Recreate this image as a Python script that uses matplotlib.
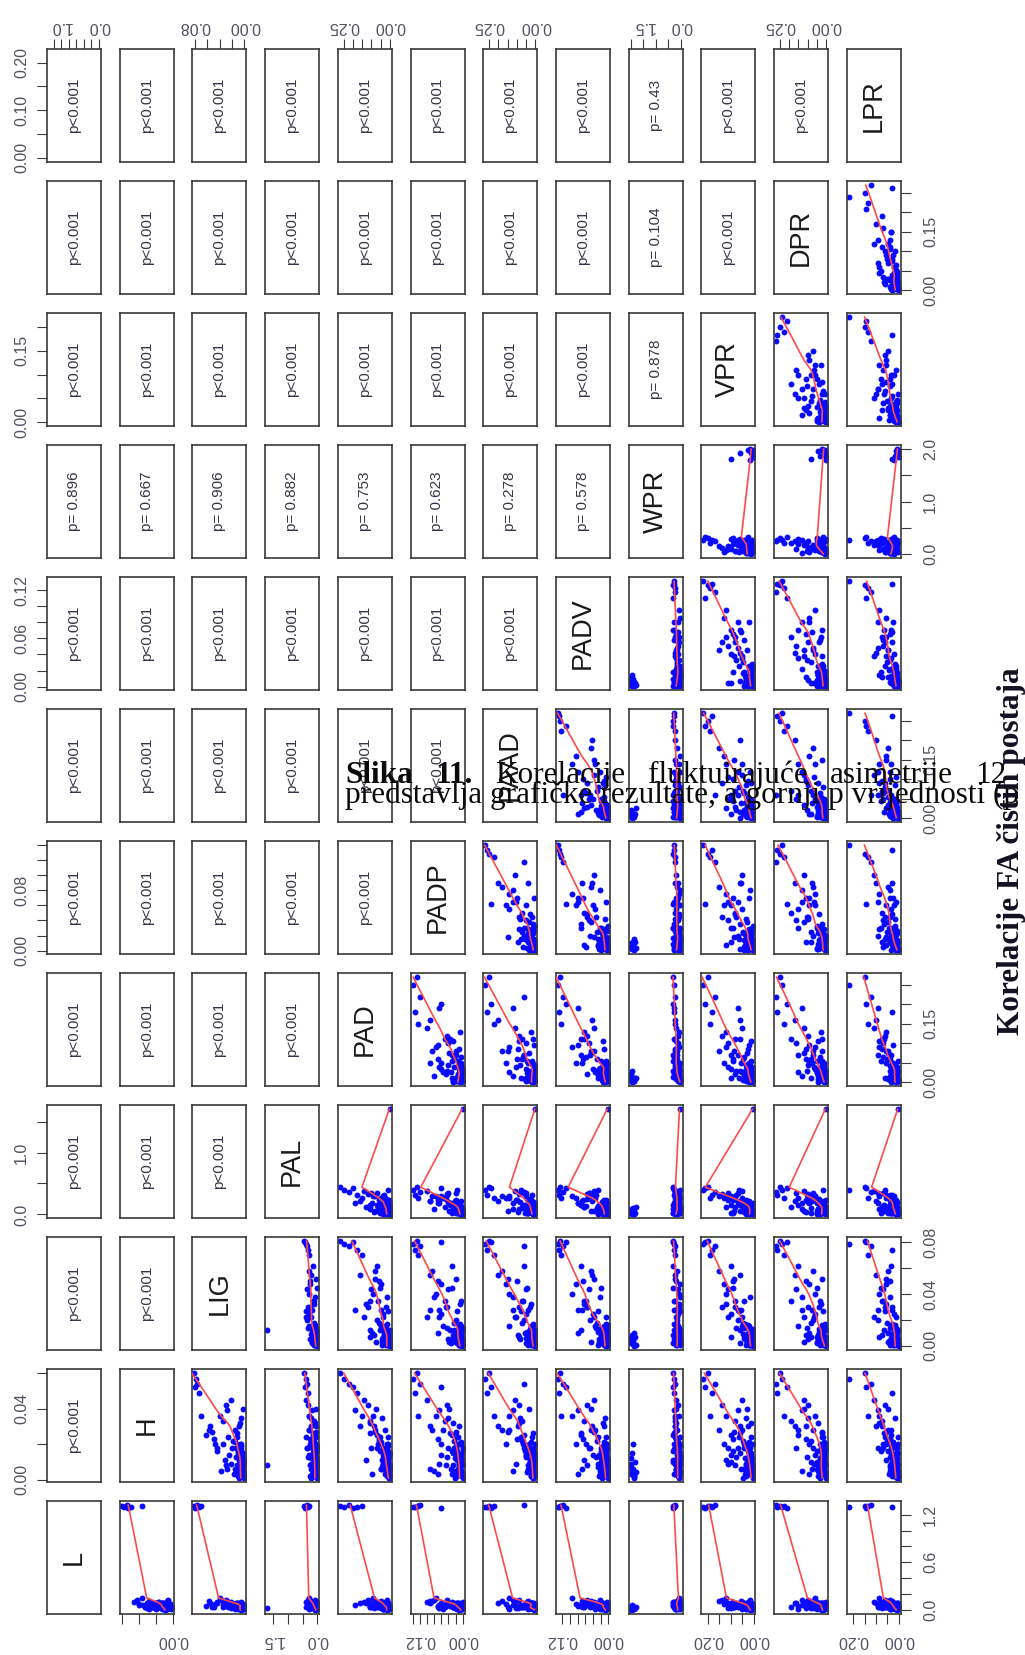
import numpy as np
import matplotlib
matplotlib.use("Agg")
import matplotlib.pyplot as plt

# ---------------- data, one list per variable (observations in the same order in every list)
L = [1.31, 1.30, 1.32, 1.29, 1.30, 1.31,
     0.12, 0.08, 0.15, 0.05, 0.10, 0.07, 0.03, 0.11, 0.06, 0.09, 0.04,
     0.02, 0.05, 0.01, 0.08, 0.03, 0.06, 0.04, 0.09, 0.02, 0.07, 0.01, 0.05, 0.03, 0.10, 0.04, 0.06, 0.02, 0.08, 0.05, 0.03, 0.07,
     0.01, 0.04, 0.06, 0.02, 0.09, 0.03, 0.05, 0.07, 0.04, 0.02, 0.06, 0.08, 0.03, 0.05, 0.01, 0.04, 0.07, 0.02, 0.06, 0.03, 0.05,
     0.04, 0.07, 0.02, 0.09, 0.05, 0.12, 0.03, 0.06, 0.08, 0.01, 0.10, 0.05, 0.03, 0.07, 0.02, 0.06, 0.09, 0.04, 0.11, 0.03,
     0.02, 0.01, 0.03, 0.00, 0.02, 0.04, 0.01, 0.03, 0.02, 0.05, 0.03, 0.01, 0.06, 0.02, 0.04, 0.01,
     0.02]
H = [0.060, 0.057, 0.054, 0.052, 0.049, 0.036,
     0.042, 0.030, 0.036, 0.025, 0.045, 0.020, 0.033, 0.028, 0.039, 0.018, 0.023,
     0.004, 0.012, 0.008, 0.018, 0.002, 0.010, 0.015, 0.006, 0.021, 0.003, 0.009, 0.013, 0.007, 0.017, 0.001, 0.011, 0.005, 0.019, 0.014, 0.008, 0.003,
     0.012, 0.016, 0.006, 0.010, 0.024, 0.002, 0.009, 0.013, 0.005, 0.018, 0.007, 0.011, 0.004, 0.015, 0.008, 0.020, 0.003, 0.012, 0.006, 0.010, 0.014,
     0.022, 0.008, 0.030, 0.014, 0.026, 0.005, 0.018, 0.035, 0.011, 0.028, 0.016, 0.003, 0.024, 0.040, 0.009, 0.020, 0.013, 0.032, 0.006, 0.027,
     0.003, 0.006, 0.001, 0.009, 0.004, 0.002, 0.007, 0.005, 0.010, 0.003, 0.012, 0.002, 0.015, 0.006, 0.004, 0.020,
     0.008]
LIG = [0.081, 0.079, 0.077, 0.080, 0.074, 0.070,
       0.030, 0.055, 0.040, 0.062, 0.022, 0.048, 0.035, 0.058, 0.028, 0.044, 0.050,
       0.003, 0.008, 0.001, 0.012, 0.005, 0.002, 0.010, 0.006, 0.015, 0.004, 0.007, 0.002, 0.011, 0.005, 0.009, 0.001, 0.013, 0.006, 0.003, 0.008, 0.017,
       0.004, 0.010, 0.002, 0.007, 0.012, 0.005, 0.001, 0.009, 0.006, 0.014, 0.003, 0.008, 0.011, 0.004, 0.002, 0.007, 0.010, 0.005, 0.016, 0.003, 0.006,
       0.018, 0.030, 0.008, 0.025, 0.012, 0.038, 0.020, 0.005, 0.032, 0.015, 0.045, 0.010, 0.027, 0.003, 0.022, 0.035, 0.014, 0.007, 0.028, 0.052,
       0.002, 0.004, 0.001, 0.006, 0.003, 0.000, 0.005, 0.002, 0.007, 0.003, 0.004, 0.010, 0.002, 0.008, 0.001, 0.005,
       0.012]
PAL = [0.44, 0.40, 0.36, 0.42, 0.31, 0.27,
       0.33, 0.22, 0.30, 0.15, 0.38, 0.26, 0.12, 0.29, 0.19, 0.35, 0.24,
       0.05, 0.12, 0.02, 0.18, 0.08, 0.03, 0.15, 0.10, 0.22, 0.06, 0.01, 0.09, 0.14, 0.04, 0.20, 0.07, 0.11, 0.02, 0.16, 0.05, 0.13,
       0.08, 0.03, 0.19, 0.10, 0.06, 0.24, 0.01, 0.12, 0.07, 0.04, 0.17, 0.09, 0.02, 0.14, 0.06, 0.11, 0.03, 0.21, 0.08, 0.05, 0.13,
       0.10, 0.25, 0.04, 0.30, 0.16, 0.08, 0.34, 0.20, 0.12, 0.27, 0.02, 0.18, 0.39, 0.06, 0.23, 0.14, 0.31, 0.09, 0.21, 0.05,
       0.03, 0.06, 0.01, 0.08, 0.04, 0.02, 0.05, 0.10, 0.03, 0.07, 0.02, 0.09, 0.05, 0.01, 0.12, 0.04,
       1.70]
PAD = [0.27, 0.25, 0.22, 0.20, 0.18, 0.15,
       0.12, 0.16, 0.09, 0.07, 0.14, 0.05, 0.11, 0.08, 0.19, 0.10, 0.06,
       0.010, 0.025, 0.005, 0.040, 0.015, 0.030, 0.008, 0.020, 0.050, 0.012, 0.035, 0.003, 0.018, 0.028, 0.006, 0.045, 0.022, 0.011, 0.033, 0.002, 0.016,
       0.038, 0.009, 0.026, 0.014, 0.055, 0.004, 0.021, 0.031, 0.007, 0.019, 0.042, 0.013, 0.024, 0.001, 0.036, 0.017, 0.029, 0.008, 0.048, 0.023, 0.012,
       0.060, 0.020, 0.085, 0.035, 0.110, 0.015, 0.070, 0.045, 0.130, 0.025, 0.055, 0.095, 0.010, 0.075, 0.040, 0.065, 0.030, 0.105, 0.050, 0.080,
       0.006, 0.012, 0.003, 0.018, 0.008, 0.002, 0.014, 0.005, 0.010, 0.004, 0.020, 0.007, 0.030, 0.001, 0.012, 0.009,
       0.002]
PADP = [0.128, 0.140, 0.118, 0.062, 0.134, 0.124,
        0.045, 0.090, 0.075, 0.030, 0.100, 0.060, 0.050, 0.085, 0.065, 0.040, 0.070,
        0.018, 0.004, 0.011, 0.026, 0.002, 0.009, 0.021, 0.014, 0.006, 0.030, 0.003, 0.016, 0.008, 0.001, 0.023, 0.012, 0.005, 0.019, 0.010, 0.027, 0.007,
        0.002, 0.015, 0.033, 0.004, 0.013, 0.020, 0.006, 0.009, 0.024, 0.001, 0.011, 0.017, 0.003, 0.028, 0.008, 0.014, 0.005, 0.022, 0.010, 0.002, 0.016,
        0.025, 0.048, 0.012, 0.060, 0.035, 0.080, 0.020, 0.042, 0.008, 0.055, 0.030, 0.070, 0.015, 0.038, 0.065, 0.005, 0.045, 0.028, 0.090, 0.018,
        0.003, 0.007, 0.001, 0.010, 0.004, 0.002, 0.008, 0.005, 0.012, 0.003, 0.006, 0.015, 0.002, 0.009, 0.004, 0.011,
        0.001]
PAAD = [0.251, 0.270, 0.060, 0.238, 0.262, 0.224,
        0.09, 0.20, 0.14, 0.06, 0.11, 0.16, 0.07, 0.18, 0.12, 0.05, 0.10,
        0.030, 0.014, 0.042, 0.008, 0.021, 0.003, 0.036, 0.017, 0.026, 0.011, 0.005, 0.048, 0.019, 0.033, 0.012, 0.002, 0.028, 0.040, 0.007, 0.023, 0.015,
        0.009, 0.055, 0.004, 0.031, 0.018, 0.024, 0.013, 0.001, 0.038, 0.022, 0.006, 0.027, 0.045, 0.016, 0.010, 0.034, 0.003, 0.020, 0.012, 0.029, 0.050,
        0.070, 0.030, 0.095, 0.050, 0.015, 0.120, 0.060, 0.085, 0.025, 0.140, 0.045, 0.010, 0.080, 0.035, 0.105, 0.065, 0.020, 0.090, 0.040, 0.150,
        0.007, 0.003, 0.012, 0.005, 0.016, 0.002, 0.009, 0.004, 0.011, 0.006, 0.020, 0.008, 0.001, 0.014, 0.025, 0.003,
        0.001]
PADV = [0.126, 0.131, 0.118, 0.110, 0.128, 0.122,
        0.055, 0.042, 0.095, 0.070, 0.038, 0.085, 0.062, 0.045, 0.080, 0.050, 0.066,
        0.006, 0.019, 0.012, 0.003, 0.025, 0.009, 0.015, 0.001, 0.011, 0.021, 0.007, 0.014, 0.028, 0.004, 0.017, 0.008, 0.002, 0.013, 0.023, 0.010, 0.005,
        0.016, 0.012, 0.001, 0.020, 0.007, 0.010, 0.026, 0.003, 0.014, 0.018, 0.006, 0.001, 0.011, 0.009, 0.022, 0.004, 0.016, 0.013, 0.002, 0.008, 0.019,
        0.030, 0.055, 0.012, 0.040, 0.070, 0.022, 0.048, 0.008, 0.062, 0.035, 0.018, 0.080, 0.026, 0.045, 0.005, 0.058, 0.033, 0.015, 0.068, 0.038,
        0.002, 0.005, 0.001, 0.008, 0.003, 0.006, 0.002, 0.009, 0.004, 0.001, 0.012, 0.003, 0.007, 0.015, 0.002, 0.005,
        0.001]
WPR = [0.31, 0.28, 0.25, 0.33, 0.27, 0.22,
       0.12, 0.25, 0.08, 0.30, 0.18, 0.05, 0.22, 0.15, 0.28, 0.10, 0.20,
       0.05, 0.15, 0.02, 0.25, 0.10, 0.30, 0.08, 0.18, 0.12, 0.04, 0.22, 0.01, 0.14, 0.28, 0.06, 0.20, 0.11, 0.03, 0.16, 0.09, 0.26,
       0.13, 0.07, 0.19, 0.02, 0.24, 0.10, 0.17, 0.05, 0.21, 0.12, 0.08, 0.33, 0.15, 0.03, 0.18, 0.06, 0.23, 0.11, 0.14, 0.27, 0.09,
       0.14, 0.06, 0.22, 0.11, 0.29, 0.03, 0.17, 0.25, 0.08, 0.19, 0.32, 0.12, 0.04, 0.21, 0.15, 0.27, 0.07, 0.18, 0.10, 0.24,
       1.98, 1.92, 1.88, 2.00, 1.95, 1.85, 1.97, 1.90, 1.82, 1.94, 1.99, 1.87, 1.93, 1.96, 1.80, 1.91,
       0.05]
VPR = [0.200, 0.220, 0.170, 0.212, 0.182, 0.190,
       0.14, 0.06, 0.12, 0.10, 0.05, 0.13, 0.08, 0.15, 0.07, 0.11, 0.09,
       0.022, 0.006, 0.035, 0.014, 0.002, 0.027, 0.010, 0.041, 0.018, 0.004, 0.031, 0.012, 0.008, 0.024, 0.046, 0.015, 0.001, 0.029, 0.020, 0.007, 0.037,
       0.013, 0.025, 0.003, 0.017, 0.009, 0.033, 0.021, 0.011, 0.005, 0.043, 0.016, 0.026, 0.008, 0.019, 0.002, 0.030, 0.012, 0.038, 0.023, 0.006, 0.014,
       0.045, 0.080, 0.025, 0.100, 0.060, 0.015, 0.070, 0.035, 0.120, 0.050, 0.090, 0.020, 0.065, 0.030, 0.110, 0.040, 0.075, 0.010, 0.055, 0.085,
       0.004, 0.010, 0.002, 0.015, 0.006, 0.001, 0.012, 0.003, 0.100, 0.005, 0.025, 0.004, 0.060, 0.008, 0.014, 0.002,
       0.001]
DPR = [0.250, 0.240, 0.270, 0.210, 0.262, 0.225,
       0.10, 0.17, 0.06, 0.15, 0.12, 0.09, 0.19, 0.07, 0.13, 0.16, 0.11,
       0.015, 0.033, 0.008, 0.026, 0.045, 0.004, 0.019, 0.038, 0.011, 0.028, 0.052, 0.007, 0.022, 0.002, 0.031, 0.017, 0.041, 0.010, 0.024, 0.036, 0.005,
       0.013, 0.029, 0.048, 0.009, 0.021, 0.001, 0.035, 0.016, 0.043, 0.006, 0.025, 0.018, 0.039, 0.012, 0.027, 0.003, 0.032, 0.014, 0.020, 0.047, 0.010,
       0.080, 0.040, 0.110, 0.060, 0.020, 0.130, 0.070, 0.100, 0.030, 0.150, 0.050, 0.090, 0.015, 0.120, 0.065, 0.035, 0.105, 0.045, 0.075, 0.025,
       0.005, 0.012, 0.003, 0.020, 0.008, 0.002, 0.015, 0.004, 0.080, 0.006, 0.015, 0.035, 0.006, 0.045, 0.003, 0.010,
       0.001]
LPR = [0.150, 0.220, 0.121, 0.142, 0.030, 0.133,
       0.060, 0.100, 0.085, 0.035, 0.110, 0.055, 0.075, 0.045, 0.090, 0.070, 0.040,
       0.025, 0.012, 0.038, 0.008, 0.019, 0.030, 0.014, 0.006, 0.027, 0.042, 0.010, 0.021, 0.016, 0.033, 0.007, 0.024, 0.011, 0.036, 0.018, 0.013, 0.029,
       0.009, 0.045, 0.015, 0.022, 0.005, 0.031, 0.012, 0.026, 0.017, 0.010, 0.040, 0.020, 0.008, 0.034, 0.014, 0.023, 0.011, 0.028, 0.016, 0.006, 0.019,
       0.050, 0.030, 0.075, 0.020, 0.065, 0.040, 0.090, 0.015, 0.055, 0.035, 0.080, 0.025, 0.060, 0.045, 0.010, 0.070, 0.038, 0.085, 0.028, 0.058,
       0.002, 0.006, 0.001, 0.009, 0.004, 0.000, 0.007, 0.003, 0.030, 0.005, 0.008, 0.015, 0.004, 0.012, 0.020, 0.001,
       0.002]

VAR_NAMES = ["L", "H", "LIG", "PAL", "PAD", "PADP", "PAAD", "PADV", "WPR", "VPR", "DPR", "LPR"]
VALUES = [L, H, LIG, PAL, PAD, PADP, PAAD, PADV, WPR, VPR, DPR, LPR]

# p-values for the upper panels (pair -> text); all others p<0.001
P_SPECIAL = {("WPR", "LPR"): "p= 0.43", ("WPR", "DPR"): "p= 0.104", ("WPR", "VPR"): "p= 0.878",
             ("L", "WPR"): "p= 0.896", ("H", "WPR"): "p= 0.667", ("LIG", "WPR"): "p= 0.906",
             ("PAL", "WPR"): "p= 0.882", ("PAD", "WPR"): "p= 0.753", ("PADP", "WPR"): "p= 0.623",
             ("PAAD", "WPR"): "p= 0.278", ("PADV", "WPR"): "p= 0.578"}
P_DEFAULT = "p<0.001"

# axis ticks and which of them carry labels
TICKS = {"L": [0.0, 0.2, 0.4, 0.6, 0.8, 1.0, 1.2], "H": [0.00, 0.02, 0.04, 0.06],
         "LIG": [0.00, 0.02, 0.04, 0.06, 0.08], "PAL": [0.0, 0.5, 1.0, 1.5],
         "PAD": [0.00, 0.05, 0.10, 0.15, 0.20, 0.25], "PADP": [0.00, 0.02, 0.04, 0.06, 0.08, 0.10, 0.12, 0.14],
         "PAAD": [0.00, 0.05, 0.10, 0.15, 0.20, 0.25], "PADV": [0.00, 0.02, 0.04, 0.06, 0.08, 0.10, 0.12],
         "WPR": [0.0, 0.5, 1.0, 1.5, 2.0], "VPR": [0.00, 0.05, 0.10, 0.15, 0.20],
         "DPR": [0.00, 0.05, 0.10, 0.15, 0.20, 0.25], "LPR": [0.00, 0.05, 0.10, 0.15, 0.20]}
H_LABELS = {"L": ["0.0", "1.0"], "LIG": ["0.00", "0.08"], "PAD": ["0.00", "0.25"], "PAAD": ["0.00", "0.25"],
            "WPR": ["0.0", "1.5"], "DPR": ["0.00", "0.25"], "H": ["0.00"], "PAL": ["0.0", "1.5"],
            "PADP": ["0.00", "0.12"], "PADV": ["0.00", "0.12"], "VPR": ["0.00", "0.20"], "LPR": ["0.00", "0.20"]}
V_LABELS = {"LPR": ["0.00", "0.10", "0.20"], "DPR": ["0.00", "0.15"], "VPR": ["0.00", "0.15"],
            "WPR": ["0.0", "1.0", "2.0"], "PADV": ["0.00", "0.06", "0.12"], "PAAD": ["0.00", "0.15"],
            "PADP": ["0.00", "0.08"], "PAD": ["0.00", "0.15"], "PAL": ["0.0", "1.0"],
            "LIG": ["0.00", "0.04", "0.08"], "H": ["0.00", "0.04"], "L": ["0.0", "0.6", "1.2"]}

CAPTION_1 = [("Slika", "bold"), ("11.", "bold"), ("Korelacije", "normal"), ("fluktuirajuće", "normal"),
             ("asimetrije", "normal"), ("12", "normal")]
CAPTION_2 = "predstavlja grafičke rezultate, a gornji p vrijednosti (p"
SIDE_TITLE = "Korelacije FA čistih postaja"

n_obs = len(L)
for v in VALUES:
    assert len(v) == n_obs, (len(v), n_obs)


def lowess(x, y, f=2 / 3, iters=3):
    """Robust locally weighted regression (same algorithm as R's lowess, without delta shortcut)."""
    x = np.asarray(x, float)
    y = np.asarray(y, float)
    o = np.argsort(x, kind="mergesort")
    x, y = x[o], y[o]
    n = len(x)
    ns = max(min(int(f * n + 1e-7), n), 2)
    rng = x[-1] - x[0]
    rw = np.ones(n)
    ys = np.zeros(n)
    for it in range(iters + 1):
        for i in range(n):
            d = np.abs(x - x[i])
            h = np.sort(d)[ns - 1]
            w = np.zeros(n)
            if h > 0:
                q = d / h
                inside = d <= 0.999 * h
                w[inside] = (1 - q[inside] ** 3) ** 3
                w[d <= 0.001 * h] = 1.0
            else:
                w[d == 0] = 1.0
            w = w * rw
            s = w.sum()
            if s <= 0:
                ys[i] = y[i]
                continue
            w = w / s
            if h > 0:
                a = np.sum(w * x)
                b = x[i] - a
                c = np.sum(w * (x - a) ** 2)
                if np.sqrt(c) > 0.001 * rng:
                    w = w * (b / c * (x - a) + 1)
            ys[i] = np.sum(w * y)
        if it == iters:
            break
        res = y - ys
        cmad = 6 * np.median(np.abs(res))
        if cmad < 1e-7 * np.mean(np.abs(y)):
            break
        r = np.abs(res)
        rw = np.where(r <= 0.001 * cmad, 1.0, np.where(r > 0.999 * cmad, 0.0, (1 - (r / cmad) ** 2) ** 2))
    return x, ys


# ---------------- layout (pixels)
W, Hh = 1025, 1655
fig = plt.figure(figsize=(W / 100, Hh / 100), dpi=100)
PW, PH = 54, 113
COL_LEFT = [47 + 72.7 * c for c in range(12)]
ROW_TOP = [49 + 132 * r for r in range(12)]

SANS = ["Liberation Sans", "DejaVu Sans"]
SERIF = ["Liberation Serif", "DejaVu Serif"]
TICK_COLOR = "#505062"
EDGE = "#3a3a3a"

limits = {}
for name, vals in zip(VAR_NAMES, VALUES):
    lo, hi = min(vals), max(vals)
    pad = 0.04 * (hi - lo)
    limits[name] = (lo - pad, hi + pad)


def fmt_labels(name, labs):
    out = []
    for t in TICKS[name]:
        s = ""
        for lb in labs:
            if abs(float(lb) - t) < 1e-9:
                s = lb
        out.append(s)
    return out


for r in range(12):
    for c in range(12):
        ax = fig.add_axes([COL_LEFT[c] / W, 1 - (ROW_TOP[r] + PH) / Hh, PW / W, PH / Hh])
        hname = VAR_NAMES[c]
        vname = VAR_NAMES[11 - r]
        hlo, hhi = limits[hname]
        vlo, vhi = limits[vname]
        ax.set_xlim(hhi, hlo)
        ax.set_ylim(vlo, vhi)
        for sp in ax.spines.values():
            sp.set_color(EDGE)
            sp.set_linewidth(1.2)
        ax.set_xticks([])
        ax.set_yticks([])

        if r + c == 11:
            ax.text(0.5, 0.5, hname, transform=ax.transAxes, rotation=90, ha="center", va="center",
                    fontsize=19.5, family=SANS, color="#1a1a1a")
        elif r + c < 11:
            i_name, j_name = VAR_NAMES[c], VAR_NAMES[11 - r]
            txt = P_SPECIAL.get((i_name, j_name), P_DEFAULT)
            ax.text(0.5, 0.5, txt, transform=ax.transAxes, rotation=90, ha="center", va="center",
                    fontsize=11, family=SANS, color="#35354a")
        else:
            hv = np.array(VALUES[c])
            vv = np.array(VALUES[11 - r])
            ax.scatter(hv, vv, s=18, color="#0a0aff", linewidths=0, zorder=2)
            xs, fit = lowess(vv, hv)
            ax.plot(fit, xs, color="#ff4a4a", lw=1.2, zorder=3)

        tick_kw = dict(direction="out", length=7, width=0.8, color=EDGE,
                       labelsize=11.5, labelcolor=TICK_COLOR)
        if r == 0 and c % 2 == 0:
            ax.set_xticks(TICKS[hname])
            ax.set_xticklabels(fmt_labels(hname, H_LABELS[hname]), family=SANS)
            ax.tick_params(axis="x", top=True, bottom=False, labeltop=True, labelbottom=False,
                           labelrotation=180, pad=4, **tick_kw)
        if r == 11 and c % 2 == 1:
            ax.set_xticks(TICKS[hname])
            ax.set_xticklabels(fmt_labels(hname, H_LABELS[hname]), family=SANS)
            ax.tick_params(axis="x", top=False, bottom=True, labeltop=False, labelbottom=True,
                           labelrotation=180, pad=7, **tick_kw)
        if c == 0 and r % 2 == 0:
            ax.set_yticks(TICKS[vname])
            ax.set_yticklabels(fmt_labels(vname, V_LABELS[vname]), family=SANS)
            ax.tick_params(axis="y", left=True, right=False, labelleft=True, labelright=False,
                           labelrotation=90, pad=6, **tick_kw)
            for lb in ax.get_yticklabels():
                lb.set_va("center")
        if c == 11 and r % 2 == 1:
            ax.set_yticks(TICKS[vname])
            ax.set_yticklabels(fmt_labels(vname, V_LABELS[vname]), family=SANS)
            ax.tick_params(axis="y", left=False, right=True, labelleft=False, labelright=True,
                           labelrotation=90, pad=9, **tick_kw)
            for lb in ax.get_yticklabels():
                lb.set_va("center")

# ---------------- overlaid caption text from the scanned page
FS = 22.5
renderer = fig.canvas.get_renderer()
y1 = 1 - 783 / Hh
y2 = 1 - 803 / Hh
x0, x1 = 345, 1007
texts = [fig.text(0, y1, w, fontsize=FS, family=SERIF, weight=wt, va="baseline", ha="left",
                  color="#0a0a0a", zorder=10) for w, wt in CAPTION_1]
widths = [t.get_window_extent(renderer).width for t in texts]
gap = (x1 - x0 - sum(widths)) / (len(texts) - 1)
xx = x0
for t, wd in zip(texts, widths):
    t.set_x(xx / W)
    xx += wd + gap
fig.text(x0 / W, y2, CAPTION_2, fontsize=FS, family=SERIF, va="baseline", ha="left", color="#0a0a0a", zorder=10)
fig.text(1012 / W, 1 - 851 / Hh, SIDE_TITLE, fontsize=FS, family=SERIF, weight="bold", rotation=90,
         ha="center", va="center", color="#111122", zorder=10)

fig.savefig("out.png", dpi=100)
